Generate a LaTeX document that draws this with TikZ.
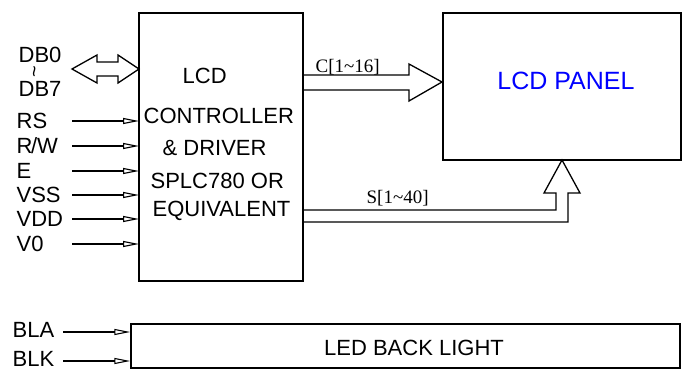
\documentclass[tikz,border=0pt]{standalone}
\usepackage{fontspec}
\setmainfont{Liberation Sans}
\newfontfamily\serifnum{Liberation Serif}
\usetikzlibrary{arrows.meta}
\begin{document}
\begin{tikzpicture}[x=1pt,y=-1pt,line width=1.3pt,
  lab/.style={anchor=base west,inner sep=0pt,font=\fontsize{22}{22}\selectfont},
  bus/.style={anchor=base west,inner sep=0pt,font=\serifnum\fontsize{19}{19}\selectfont},
  sig/.style={-{Triangle[open,length=16pt,width=6pt,line width=1.1pt]}},
  box/.style={draw,inner sep=0pt}]
\useasboundingbox (0,0) rectangle (688,370);
% boxes
\draw (139,13) rectangle (303,281);
\coordinate (ctrl) at (139,13);
\node[box,minimum width=238pt,minimum height=147pt] (panel) at (562,86.5) {};
\node[text=blue,inner sep=0pt,font=\fontsize{25}{25}\selectfont] (ptext) at (566,81) {LCD PANEL};
\node[box,minimum width=549pt,minimum height=44pt] (led) at (405.5,346) {};
\node[inner sep=0pt,font=\fontsize{22}{22}\selectfont] (ltext) at (414,348) {LED BACK LIGHT};
% controller text
\node[lab] (t1) at (182,83) {LCD};
\node[lab] (t2) at (143,123) {CONTROLLER};
\node[lab] (t3) at (162,155) {\& DRIVER};
\node[lab] (t4) at (150,188) {SPLC780 OR};
\node[lab] (t5) at (152,216) {EQUIVALENT};
% DB labels
\node[lab] (db0) at (18,62) {DB0};
\node[inner sep=0pt,rotate=90,font=\fontsize{20}{20}\selectfont] (tl) at (37,71.5) {\char"007E};
\node[lab] (db7) at (18,96.5) {DB7};
% double arrow
\draw (72,69) -- (97,55) -- (97,62) -- (118,62) -- (118,55) -- (139,69) -- (118,83) -- (118,76) -- (97,76) -- (97,83) -- cycle;
% signal lines
\foreach \n/\t/\y in {rs/RS/121,rw/{R\kern-1.5pt/W}/146,e/E/171,vss/VSS/195,vdd/VDD/219,vo/V0/244}{
  \node[lab] (l\n) at (16,\y+7) {\t};
  \coordinate (s\n) at (72,\y);
  \draw[sig] (s\n) -- (139,\y);
}
\foreach \n/\t/\y in {bla/BLA/332,blk/BLK/361}{
  \node[lab] (l\n) at (12,\y+5) {\t};
  \coordinate (s\n) at (63,\y);
  \draw[sig] (s\n) -- (led.west |- s\n);
}
% C bus
\draw (303,75) -- (409,75) -- (409,64) -- (442,82) -- (409,101) -- (409,90) -- (303,90);
\node[bus] (cl) at (315,72) {C[1\char"007E 16]};
% S bus
\draw (303,210) -- (556,210) -- (556,193) -- (544,193) -- (562,160) -- (580,193) -- (568,193) -- (568,222) -- (303,222);
\node[bus] (sl) at (366,203) {S[1\char"007E 40]};
\end{tikzpicture}
\end{document}
